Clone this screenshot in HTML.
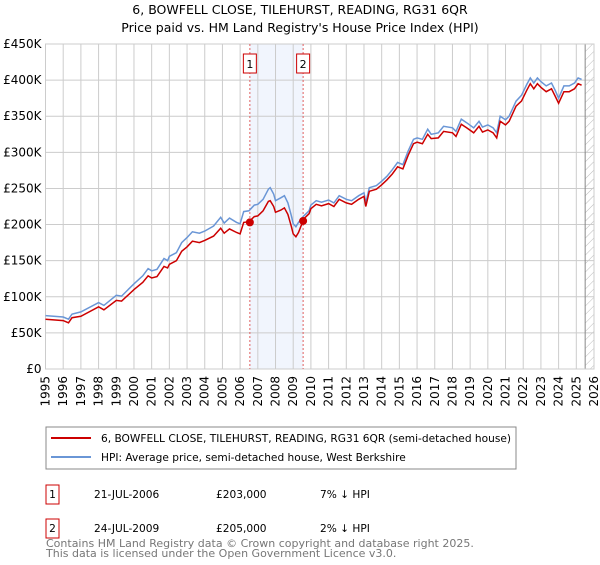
<!DOCTYPE html>
<html><head><meta charset="utf-8"><style>
body{margin:0;background:#fff;font-family:"Liberation Sans","DejaVu Sans",sans-serif}
svg text{font-family:"DejaVu Sans","Liberation Sans",sans-serif}
</style></head><body>
<svg id="c" width="600" height="560" viewBox="0 0 600 560">
<text x="300" y="14" text-anchor="middle" font-size="12.5">6, BOWFELL CLOSE, TILEHURST, READING, RG31 6QR</text>
<text x="300" y="32" text-anchor="middle" font-size="12.5">Price paid vs. HM Land Registry's House Price Index (HPI)</text>
<defs><pattern id="h" width="6" height="6" patternUnits="userSpaceOnUse" patternTransform="rotate(45)"><line x1="0" y1="0" x2="0" y2="6" stroke="#bbb" stroke-width="1"/></pattern></defs>
<g id="plot"></g>
<g>
<rect x="46" y="427" width="470" height="42" fill="#fff" stroke="#888"/>
<line x1="51" y1="438" x2="91" y2="438" stroke="#cc0000" stroke-width="2"/>
<text x="101" y="442" font-size="10.6">6, BOWFELL CLOSE, TILEHURST, READING, RG31 6QR (semi-detached house)</text>
<line x1="51" y1="457" x2="91" y2="457" stroke="#6a96d6" stroke-width="2"/>
<text x="101" y="461" font-size="10.6">HPI: Average price, semi-detached house, West Berkshire</text>
</g>
<g font-size="10.6">
<rect x="46" y="485" width="13" height="19" fill="#fff" stroke="#cc0000"/><text x="52.5" y="498" text-anchor="middle">1</text>
<text x="94" y="498">21-JUL-2006</text><text x="216" y="498">£203,000</text><text x="320" y="498">7% ↓ HPI</text>
<rect x="46" y="519" width="13" height="19" fill="#fff" stroke="#cc0000"/><text x="52.5" y="532" text-anchor="middle">2</text>
<text x="94" y="532">24-JUL-2009</text><text x="216" y="532">£205,000</text><text x="320" y="532">2% ↓ HPI</text>
</g>
<text x="46" y="547" font-size="11" fill="#777">Contains HM Land Registry data © Crown copyright and database right 2025.</text>
<text x="46" y="557" font-size="11" fill="#777">This data is licensed under the Open Government Licence v3.0.</text>
</svg>
<script>
const years=[1995,1996,1996.3,1996.5,1997,1998,1998.3,1999,1999.3,2000,2000.5,2000.8,2001,2001.3,2001.7,2001.9,2002,2002.4,2002.7,2003,2003.3,2003.7,2004,2004.5,2004.9,2005.1,2005.4,2005.8,2006,2006.2,2006.5,2006.8,2007,2007.3,2007.6,2007.7,2007.9,2008,2008.3,2008.5,2008.7,2008.9,2009,2009.15,2009.3,2009.6,2009.9,2010,2010.3,2010.6,2011,2011.3,2011.6,2012,2012.3,2012.7,2013,2013.1,2013.3,2013.7,2014,2014.3,2014.6,2014.9,2015.2,2015.5,2015.8,2016,2016.3,2016.6,2016.8,2017.2,2017.5,2018,2018.2,2018.5,2018.8,2019.2,2019.5,2019.7,2020,2020.3,2020.5,2020.7,2021,2021.2,2021.6,2021.9,2022.2,2022.4,2022.6,2022.8,2023,2023.3,2023.6,2023.8,2024,2024.3,2024.6,2024.9,2025.1,2025.3];
const hpi=[74,72,69,76,79,92,88,102,101,118,129,139,136,138,153,150,156,161,175,182,190,188,191,198,210,202,209,203,201,218,219,227,228,235,249,251,242,233,237,240,230,212,201,197,203,212,219,227,233,231,234,230,240,235,233,240,244,230,251,254,260,267,276,286,283,302,318,320,318,332,325,327,336,334,329,346,341,334,343,335,338,334,327,350,345,350,371,379,394,403,396,403,398,392,396,386,375,392,392,396,403,401];
const price=[69,67,64,71,73,86,82,95,94,110,120,129,126,128,142,140,145,150,163,169,177,175,178,184,195,188,194,189,187,203,204,211,212,219,232,233,225,217,220,223,214,197,187,183,189,208,215,222,228,226,229,225,235,230,228,235,239,225,246,249,255,262,270,280,277,296,312,314,312,325,319,320,329,327,322,339,334,327,336,328,331,327,320,343,338,343,364,371,386,395,388,395,390,384,388,378,368,384,384,388,395,393];
const saleYears=[2006.55,2009.56];
const salePrices=[203,205];
const yTicks=[0,50,100,150,200,250,300,350,400,450];
const xTicks=[1995,1996,1997,1998,1999,2000,2001,2002,2003,2004,2005,2006,2007,2008,2009,2010,2011,2012,2013,2014,2015,2016,2017,2018,2019,2020,2021,2022,2023,2024,2025,2026];
const L=45.5,R=594,T=44,B=369;
const X=y=>L+(y-1995)/31*(R-L);
const Y=v=>B-v/450*(B-T);
const g=document.getElementById('plot');
const NS='http://www.w3.org/2000/svg';
function mk(t,a){const e=document.createElementNS(NS,t);for(const k in a)e.setAttribute(k,a[k]);g.appendChild(e);return e;}
let e=mk('rect',{x:X(saleYears[0]),y:T,width:X(saleYears[1])-X(saleYears[0]),height:B-T,fill:'#f1f5fd'});


e=mk('rect',{x:X(2025.5),y:T,width:R-X(2025.5),height:B-T,fill:'url(#h)'});


yTicks.forEach(v=>{mk('line',{x1:L,x2:R,y1:Y(v),y2:Y(v),stroke:'#ccc'});
const t=mk('text',{x:L-4,y:Y(v)+4,'text-anchor':'end','font-size':'12'});t.textContent='£'+(v?v+'K':'0');

});
xTicks.forEach(y=>{mk('line',{x1:X(y),x2:X(y),y1:T,y2:B,stroke:'#ccc'});
const t=mk('text',{transform:`translate(${X(y)+4},${B+7}) rotate(-90)`,'text-anchor':'end','font-size':'12'});t.textContent=y;

});
mk('line',{x1:X(2025.5),x2:X(2025.5),y1:T,y2:B,stroke:'#888'});
mk('rect',{x:L,y:T,width:R-L,height:B-T,fill:'none',stroke:'#ccc'});
saleYears.forEach((s,i)=>{const l=mk('line',{x1:X(s),x2:X(s),y1:T,y2:B,stroke:'#e06060','stroke-dasharray':'2,2'});


mk('rect',{x:X(s)-6.5,y:54,width:13,height:19,fill:'#fff',stroke:'#cc0000'});
const t=mk('text',{x:X(s),y:68,'text-anchor':'middle','font-size':'11'});t.textContent=i+1;

});
const path=a=>a.map((v,i)=>(i?'L':'M')+X(years[i]).toFixed(1)+','+Y(v).toFixed(1)).join('');
e=mk('path',{d:path(hpi),fill:'none',stroke:'#6a96d6','stroke-width':'1.5'});


e=mk('path',{d:path(price),fill:'none',stroke:'#cc0000','stroke-width':'1.5'});


saleYears.forEach((s,i)=>{const c=mk('circle',{cx:X(s),cy:Y(salePrices[i]),r:4,fill:'#cc0000'});

});
</script>
</body></html>
